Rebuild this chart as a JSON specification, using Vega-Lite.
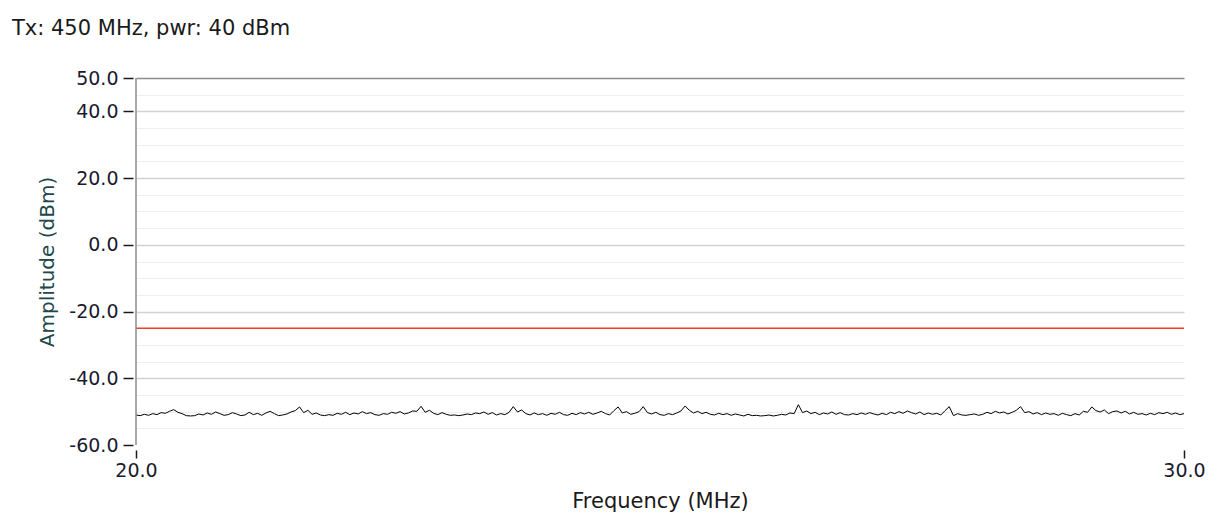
{
  "$schema": "https://vega.github.io/schema/vega-lite/v6.json",
  "width": 1048,
  "height": 367,
  "autosize": {"type": "none"},
  "padding": {"left": 136, "top": 78, "right": 28, "bottom": 80},
  "background": "white",
  "config": {"view": {"stroke": null}, "font": "DejaVu Sans"},
  "title": {"text": "Tx: 450 MHz, pwr: 40 dBm", "anchor": "start", "frame": "group", "dx": -124, "offset": 30, "fontSize": 21, "fontWeight": "normal", "color": "#1a1a1a", "font": "DejaVu Sans"},
  "datasets": {
    "limit": [{"freq": 20, "amp": -25}, {"freq": 30, "amp": -25}],
    "noise": [
      {"freq": 20.00, "amp": -51.0}, {"freq": 20.04, "amp": -51.2}, {"freq": 20.08, "amp": -50.8}, {"freq": 20.12, "amp": -51.1}, {"freq": 20.16, "amp": -50.6}, {"freq": 20.20, "amp": -50.9}, {"freq": 20.24, "amp": -50.3}, {"freq": 20.28, "amp": -50.5}, {"freq": 20.32, "amp": -49.9}, {"freq": 20.36, "amp": -49.4},
      {"freq": 20.40, "amp": -50.2}, {"freq": 20.44, "amp": -50.6}, {"freq": 20.48, "amp": -51.2}, {"freq": 20.52, "amp": -51.3}, {"freq": 20.56, "amp": -51.2}, {"freq": 20.60, "amp": -50.7}, {"freq": 20.64, "amp": -51.0}, {"freq": 20.68, "amp": -50.4}, {"freq": 20.72, "amp": -50.8}, {"freq": 20.76, "amp": -50.1},
      {"freq": 20.80, "amp": -50.6}, {"freq": 20.84, "amp": -51.1}, {"freq": 20.88, "amp": -50.9}, {"freq": 20.92, "amp": -50.3}, {"freq": 20.96, "amp": -50.7}, {"freq": 21.00, "amp": -51.2}, {"freq": 21.04, "amp": -51.0}, {"freq": 21.08, "amp": -50.2}, {"freq": 21.12, "amp": -50.9}, {"freq": 21.16, "amp": -50.5},
      {"freq": 21.20, "amp": -51.1}, {"freq": 21.24, "amp": -50.4}, {"freq": 21.28, "amp": -49.9}, {"freq": 21.32, "amp": -50.6}, {"freq": 21.36, "amp": -51.2}, {"freq": 21.40, "amp": -51.0}, {"freq": 21.44, "amp": -50.7}, {"freq": 21.48, "amp": -50.1}, {"freq": 21.52, "amp": -49.7}, {"freq": 21.56, "amp": -48.6},
      {"freq": 21.60, "amp": -50.3}, {"freq": 21.64, "amp": -49.6}, {"freq": 21.68, "amp": -50.8}, {"freq": 21.72, "amp": -50.4}, {"freq": 21.76, "amp": -51.0}, {"freq": 21.80, "amp": -51.2}, {"freq": 21.84, "amp": -50.9}, {"freq": 21.88, "amp": -51.1}, {"freq": 21.92, "amp": -50.5}, {"freq": 21.96, "amp": -50.8},
      {"freq": 22.00, "amp": -50.2}, {"freq": 22.04, "amp": -50.9}, {"freq": 22.08, "amp": -50.4}, {"freq": 22.12, "amp": -50.7}, {"freq": 22.16, "amp": -50.0}, {"freq": 22.20, "amp": -50.6}, {"freq": 22.24, "amp": -50.3}, {"freq": 22.28, "amp": -50.9}, {"freq": 22.32, "amp": -51.1}, {"freq": 22.36, "amp": -50.6},
      {"freq": 22.40, "amp": -50.8}, {"freq": 22.44, "amp": -50.2}, {"freq": 22.48, "amp": -50.5}, {"freq": 22.52, "amp": -50.0}, {"freq": 22.56, "amp": -50.7}, {"freq": 22.60, "amp": -50.4}, {"freq": 22.64, "amp": -49.8}, {"freq": 22.68, "amp": -49.9}, {"freq": 22.72, "amp": -48.4}, {"freq": 22.76, "amp": -50.2},
      {"freq": 22.80, "amp": -49.6}, {"freq": 22.84, "amp": -50.5}, {"freq": 22.88, "amp": -50.9}, {"freq": 22.92, "amp": -50.3}, {"freq": 22.96, "amp": -50.8}, {"freq": 23.00, "amp": -51.1}, {"freq": 23.04, "amp": -51.0}, {"freq": 23.08, "amp": -51.2}, {"freq": 23.12, "amp": -51.0}, {"freq": 23.16, "amp": -50.7},
      {"freq": 23.20, "amp": -50.9}, {"freq": 23.24, "amp": -50.4}, {"freq": 23.28, "amp": -50.6}, {"freq": 23.32, "amp": -50.1}, {"freq": 23.36, "amp": -50.8}, {"freq": 23.40, "amp": -50.3}, {"freq": 23.44, "amp": -51.0}, {"freq": 23.48, "amp": -50.6}, {"freq": 23.52, "amp": -50.9}, {"freq": 23.56, "amp": -50.2},
      {"freq": 23.60, "amp": -48.5}, {"freq": 23.64, "amp": -50.1}, {"freq": 23.68, "amp": -49.5}, {"freq": 23.72, "amp": -50.6}, {"freq": 23.76, "amp": -51.0}, {"freq": 23.80, "amp": -50.4}, {"freq": 23.84, "amp": -50.9}, {"freq": 23.88, "amp": -50.6}, {"freq": 23.92, "amp": -51.1}, {"freq": 23.96, "amp": -50.5},
      {"freq": 24.00, "amp": -50.8}, {"freq": 24.04, "amp": -50.2}, {"freq": 24.08, "amp": -50.9}, {"freq": 24.12, "amp": -51.1}, {"freq": 24.16, "amp": -50.5}, {"freq": 24.20, "amp": -50.9}, {"freq": 24.24, "amp": -50.3}, {"freq": 24.28, "amp": -50.7}, {"freq": 24.32, "amp": -50.2}, {"freq": 24.36, "amp": -50.8},
      {"freq": 24.40, "amp": -50.4}, {"freq": 24.44, "amp": -49.9}, {"freq": 24.48, "amp": -50.6}, {"freq": 24.52, "amp": -51.0}, {"freq": 24.56, "amp": -49.7}, {"freq": 24.60, "amp": -48.6}, {"freq": 24.64, "amp": -50.4}, {"freq": 24.68, "amp": -50.0}, {"freq": 24.72, "amp": -50.8}, {"freq": 24.76, "amp": -50.5},
      {"freq": 24.80, "amp": -50.0}, {"freq": 24.84, "amp": -48.5}, {"freq": 24.88, "amp": -50.3}, {"freq": 24.92, "amp": -50.7}, {"freq": 24.96, "amp": -50.2}, {"freq": 25.00, "amp": -50.9}, {"freq": 25.04, "amp": -51.1}, {"freq": 25.08, "amp": -50.6}, {"freq": 25.12, "amp": -50.9}, {"freq": 25.16, "amp": -50.4},
      {"freq": 25.20, "amp": -49.8}, {"freq": 25.24, "amp": -48.3}, {"freq": 25.28, "amp": -49.6}, {"freq": 25.32, "amp": -50.4}, {"freq": 25.36, "amp": -49.9}, {"freq": 25.40, "amp": -50.6}, {"freq": 25.44, "amp": -50.2}, {"freq": 25.48, "amp": -50.8}, {"freq": 25.52, "amp": -51.0}, {"freq": 25.56, "amp": -50.5},
      {"freq": 25.60, "amp": -50.9}, {"freq": 25.64, "amp": -50.6}, {"freq": 25.68, "amp": -51.1}, {"freq": 25.72, "amp": -50.7}, {"freq": 25.76, "amp": -51.0}, {"freq": 25.80, "amp": -51.3}, {"freq": 25.84, "amp": -50.8}, {"freq": 25.88, "amp": -51.2}, {"freq": 25.92, "amp": -51.1}, {"freq": 25.96, "amp": -51.3},
      {"freq": 26.00, "amp": -51.2}, {"freq": 26.04, "amp": -51.0}, {"freq": 26.08, "amp": -51.3}, {"freq": 26.12, "amp": -51.1}, {"freq": 26.16, "amp": -50.8}, {"freq": 26.20, "amp": -51.0}, {"freq": 26.24, "amp": -50.4}, {"freq": 26.28, "amp": -50.6}, {"freq": 26.32, "amp": -47.9}, {"freq": 26.36, "amp": -50.3},
      {"freq": 26.40, "amp": -49.8}, {"freq": 26.44, "amp": -50.6}, {"freq": 26.48, "amp": -50.2}, {"freq": 26.52, "amp": -50.9}, {"freq": 26.56, "amp": -50.4}, {"freq": 26.60, "amp": -50.7}, {"freq": 26.64, "amp": -50.1}, {"freq": 26.68, "amp": -50.8}, {"freq": 26.72, "amp": -50.3}, {"freq": 26.76, "amp": -50.9},
      {"freq": 26.80, "amp": -51.0}, {"freq": 26.84, "amp": -50.6}, {"freq": 26.88, "amp": -50.9}, {"freq": 26.92, "amp": -50.4}, {"freq": 26.96, "amp": -50.8}, {"freq": 27.00, "amp": -50.3}, {"freq": 27.04, "amp": -50.7}, {"freq": 27.08, "amp": -51.0}, {"freq": 27.12, "amp": -50.5}, {"freq": 27.16, "amp": -50.9},
      {"freq": 27.20, "amp": -50.2}, {"freq": 27.24, "amp": -50.6}, {"freq": 27.28, "amp": -50.0}, {"freq": 27.32, "amp": -50.5}, {"freq": 27.36, "amp": -49.8}, {"freq": 27.40, "amp": -50.3}, {"freq": 27.44, "amp": -50.7}, {"freq": 27.48, "amp": -50.1}, {"freq": 27.52, "amp": -50.9}, {"freq": 27.56, "amp": -50.4},
      {"freq": 27.60, "amp": -50.8}, {"freq": 27.64, "amp": -50.5}, {"freq": 27.68, "amp": -51.0}, {"freq": 27.72, "amp": -49.7}, {"freq": 27.76, "amp": -48.5}, {"freq": 27.80, "amp": -51.2}, {"freq": 27.84, "amp": -50.6}, {"freq": 27.88, "amp": -51.0}, {"freq": 27.92, "amp": -51.1}, {"freq": 27.96, "amp": -50.9},
      {"freq": 28.00, "amp": -50.7}, {"freq": 28.04, "amp": -51.1}, {"freq": 28.08, "amp": -50.8}, {"freq": 28.12, "amp": -50.2}, {"freq": 28.16, "amp": -50.6}, {"freq": 28.20, "amp": -49.9}, {"freq": 28.24, "amp": -50.4}, {"freq": 28.28, "amp": -50.1}, {"freq": 28.32, "amp": -50.7}, {"freq": 28.36, "amp": -50.2},
      {"freq": 28.40, "amp": -49.6}, {"freq": 28.44, "amp": -48.5}, {"freq": 28.48, "amp": -50.3}, {"freq": 28.52, "amp": -50.0}, {"freq": 28.56, "amp": -50.7}, {"freq": 28.60, "amp": -50.3}, {"freq": 28.64, "amp": -50.9}, {"freq": 28.68, "amp": -50.4}, {"freq": 28.72, "amp": -50.8}, {"freq": 28.76, "amp": -50.6},
      {"freq": 28.80, "amp": -51.1}, {"freq": 28.84, "amp": -50.5}, {"freq": 28.88, "amp": -50.9}, {"freq": 28.92, "amp": -51.2}, {"freq": 28.96, "amp": -50.6}, {"freq": 29.00, "amp": -51.0}, {"freq": 29.04, "amp": -49.9}, {"freq": 29.08, "amp": -50.2}, {"freq": 29.12, "amp": -48.6}, {"freq": 29.16, "amp": -49.7},
      {"freq": 29.20, "amp": -50.1}, {"freq": 29.24, "amp": -49.5}, {"freq": 29.28, "amp": -50.6}, {"freq": 29.32, "amp": -50.0}, {"freq": 29.36, "amp": -49.8}, {"freq": 29.40, "amp": -50.4}, {"freq": 29.44, "amp": -49.9}, {"freq": 29.48, "amp": -50.7}, {"freq": 29.52, "amp": -50.2}, {"freq": 29.56, "amp": -50.8},
      {"freq": 29.60, "amp": -50.6}, {"freq": 29.64, "amp": -51.0}, {"freq": 29.68, "amp": -50.5}, {"freq": 29.72, "amp": -50.9}, {"freq": 29.76, "amp": -50.3}, {"freq": 29.80, "amp": -50.6}, {"freq": 29.84, "amp": -50.2}, {"freq": 29.88, "amp": -50.8}, {"freq": 29.92, "amp": -50.4}, {"freq": 29.96, "amp": -50.9},
      {"freq": 30.00, "amp": -50.6}
    ]
  },
  "layer": [
    {
      "data": {"name": "limit"},
      "mark": {"type": "line", "color": "#f23c2a", "strokeWidth": 1.5},
      "encoding": {
        "x": {
          "field": "freq", "type": "quantitative",
          "scale": {"domain": [20, 30], "nice": false, "zero": false},
          "axis": {
            "values": [20, 30], "format": ".1f", "domain": false, "grid": false,
            "offset": 5, "tickSize": 8, "tickColor": "#1a1a1a", "tickWidth": 1.5,
            "labelPadding": 3, "labelFlush": false, "labelFontSize": 19, "labelColor": "#1a1a2e", "labelFont": "DejaVu Sans",
            "title": "Frequency (MHz)", "titleFontSize": 21, "titleFontWeight": "normal", "titleColor": "#1a1a1a", "titlePadding": 10, "titleFont": "DejaVu Sans"
          }
        },
        "y": {
          "field": "amp", "type": "quantitative",
          "scale": {"domain": [-60, 50], "nice": false, "zero": false},
          "axis": {
            "values": [50, 45, 40, 35, 30, 25, 20, 15, 10, 5, 0, -5, -10, -15, -20, -25, -30, -35, -40, -45, -50, -55, -60],
            "tickCount": 100,
            "labelOverlap": false,
            "format": ".1f",
            "labelExpr": "(datum.value % 20 === 0 || datum.value === 50) ? replace(format(datum.value, '.1f'), '\u2212', '-') : ''",
            "domain": false, "offset": 3, "tickSize": 10, "tickColor": "#1a1a1a", "tickWidth": 1.5,
            "tickOpacity": {"condition": {"test": "datum.value % 20 === 0 || datum.value === 50", "value": 1}, "value": 0},
            "grid": true,
            "gridColor": {"condition": [{"test": "datum.value === 50", "value": "#8c8c8c"}, {"test": "datum.value === -60", "value": "transparent"}, {"test": "datum.value % 20 === 0", "value": "#d2d2d2"}], "value": "#efefef"},
            "gridWidth": {"condition": {"test": "datum.value % 20 === 0 || datum.value === 50", "value": 1.5}, "value": 1},
            "labelPadding": 5, "labelFontSize": 19, "labelColor": "#1a1a2e", "labelFont": "DejaVu Sans",
            "title": "Amplitude (dBm)", "titleFontSize": 20, "titleFontWeight": "normal", "titleColor": "#204848", "titlePadding": 11, "titleFont": "DejaVu Sans"
          }
        }
      }
    },
    {
      "data": {"name": "noise"},
      "mark": {"type": "line", "color": "#000000", "strokeWidth": 1},
      "encoding": {
        "x": {"field": "freq", "type": "quantitative"},
        "y": {"field": "amp", "type": "quantitative"}
      }
    },
    {
      "data": {"values": [{}]},
      "mark": {"type": "rule", "color": "#8c8c8c", "strokeWidth": 1.5},
      "encoding": {
        "x": {"datum": 20},
        "y": {"datum": -60},
        "y2": {"datum": 50}
      }
    }
  ]
}
